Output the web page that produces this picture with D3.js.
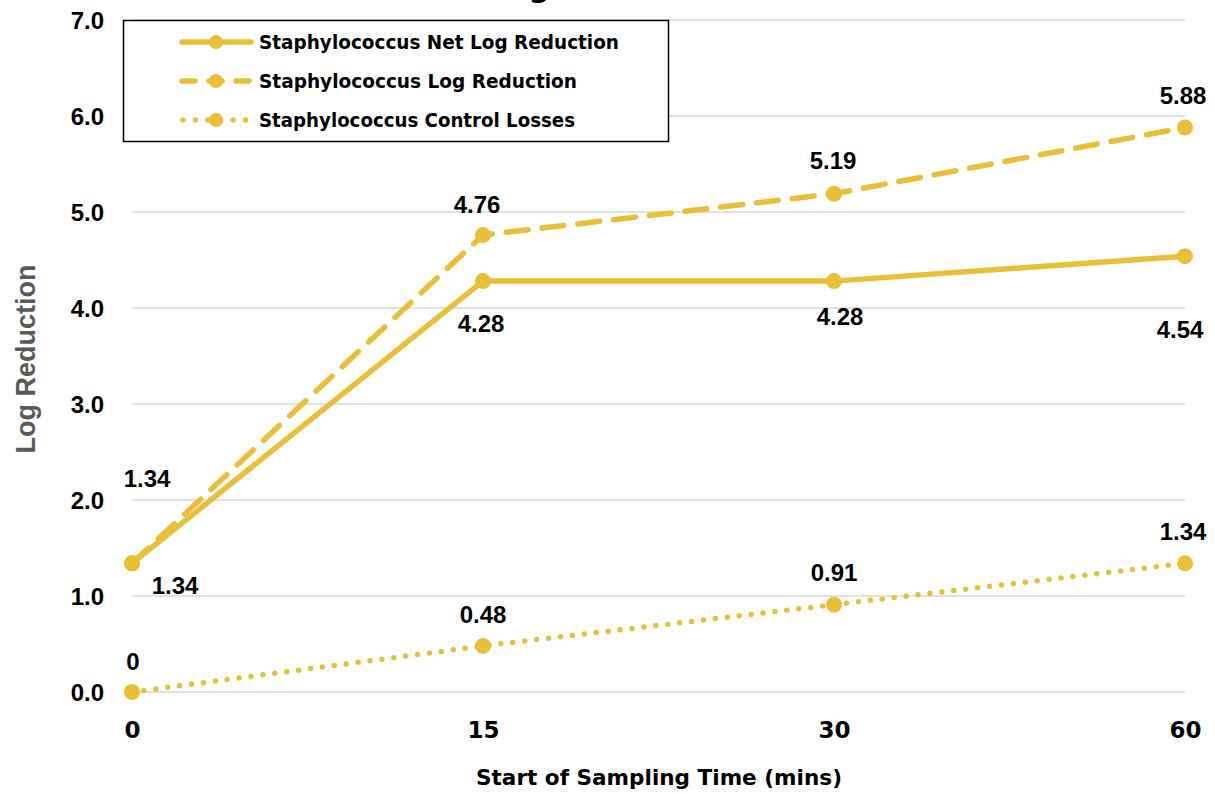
<!DOCTYPE html>
<html>
<head>
<meta charset="utf-8">
<script src="https://cdn.jsdelivr.net/npm/d3@7"></script>
<style>
  html, body { margin: 0; padding: 0; background: #fff; }
  svg { display: block; }
</style>
</head>
<body>
<svg id="chart" width="1215" height="794"></svg>
<script>
// Sampling times (minutes) and log-reduction values per series
const times = ["0", "15", "30", "60"];
const netLogReduction = [1.34, 4.28, 4.28, 4.54];
const logReduction = [1.34, 4.76, 5.19, 5.88];
const controlLosses = [0, 0.48, 0.91, 1.34];
const yTicks = [0, 1, 2, 3, 4, 5, 6, 7];
const seriesNames = [
  "Staphylococcus Net Log Reduction",
  "Staphylococcus Log Reduction",
  "Staphylococcus Control Losses"
];

const gold = "#E9BF37";
const svg = d3.select("#chart");

const x = d3.scalePoint().domain(times).range([132, 1185]);
const y = d3.scaleLinear().domain([0, 7]).range([692, 20]);

// Title (sits mostly above the visible area)
svg.append("text")
  .attr("x", 610).attr("y", -3)
  .attr("text-anchor", "middle")
  .style("font", "bold 30px 'DejaVu Sans'")
  .attr("fill", "#000")
  .text("Log Reduction");

// Horizontal gridlines
svg.append("g")
  .selectAll("line")
  .data(yTicks)
  .join("line")
  .attr("x1", x.range()[0]).attr("x2", x.range()[1])
  .attr("y1", d => y(d)).attr("y2", d => y(d))
  .attr("stroke", "#d9d9d9")
  .attr("stroke-width", 1.5);

// Y axis tick labels
const yAxis = d3.axisLeft(y).tickValues(yTicks).tickFormat(d3.format(".1f")).tickSize(0).tickPadding(0);
svg.append("g")
  .attr("transform", "translate(104,0)")
  .call(yAxis)
  .call(g => g.select(".domain").remove())
  .selectAll("text")
  .attr("dy", "0.36em")
  .style("font", "bold 24px 'Liberation Sans'")
  .attr("fill", "#000");

// X axis tick labels
const xAxis = d3.axisBottom(x).tickSize(0).tickPadding(0);
svg.append("g")
  .attr("transform", "translate(0,738)")
  .call(xAxis)
  .call(g => g.select(".domain").remove())
  .selectAll("text")
  .attr("dy", 0)
  .style("font", "bold 23px 'DejaVu Sans'")
  .attr("fill", "#000");

// Axis titles
svg.append("text")
  .attr("x", 659).attr("y", 785)
  .attr("text-anchor", "middle")
  .style("font", "bold 22px 'DejaVu Sans'")
  .attr("fill", "#000")
  .attr("textLength", 366).attr("lengthAdjust", "spacingAndGlyphs")
  .text("Start of Sampling Time (mins)");

svg.append("text")
  .attr("transform", "translate(35,359) rotate(-90)")
  .attr("text-anchor", "middle")
  .style("font", "bold 27px 'Liberation Sans'")
  .attr("fill", "#595959")
  .text("Log Reduction");

// Series definitions: stroke pattern and label placement
const series = [
  { name: seriesNames[0], values: netLogReduction, dash: null, cap: "butt",
    labelOffsets: [[43, 22], [-2, 42], [6, 35], [-5, 73]] },
  { name: seriesNames[1], values: logReduction, dash: "22,14", cap: "round",
    labelOffsets: [[15, -85], [-6, -31], [-1, -33], [-2, -32]] },
  { name: seriesNames[2], values: controlLosses, dash: "0,12", cap: "round",
    labelOffsets: [[1, -31], [0, -32], [0, -32], [-2, -32]] }
];

const line = d3.line().x((d, i) => x(times[i])).y(d => y(d));

const plot = svg.append("g");
series.forEach(s => {
  plot.append("path")
    .datum(s.values)
    .attr("d", line)
    .attr("fill", "none")
    .attr("stroke", gold)
    .attr("stroke-width", 5.5)
    .attr("stroke-linejoin", "round")
    .attr("stroke-linecap", s.cap)
    .attr("stroke-dasharray", s.dash);
  plot.append("g")
    .selectAll("circle")
    .data(s.values)
    .join("circle")
    .attr("cx", (d, i) => x(times[i]))
    .attr("cy", d => y(d))
    .attr("r", 8)
    .attr("fill", gold);
});

// Data labels
series.forEach(s => {
  svg.append("g")
    .selectAll("text")
    .data(s.values)
    .join("text")
    .attr("x", (d, i) => x(times[i]) + s.labelOffsets[i][0])
    .attr("y", (d, i) => y(d) + s.labelOffsets[i][1])
    .attr("dy", "0.36em")
    .attr("text-anchor", "middle")
    .style("font", "bold 24px 'Liberation Sans'")
    .attr("fill", "#000")
    .text(d => d === 0 ? "0" : d3.format(".2f")(d));
});

// Legend
const legend = svg.append("g");
legend.append("rect")
  .attr("x", 123.5).attr("y", 20.5)
  .attr("width", 545).attr("height", 121)
  .attr("fill", "#fff")
  .attr("stroke", "#000")
  .attr("stroke-width", 1.5);

const legendRows = [42, 81, 120];
series.forEach((s, i) => {
  const ly = legendRows[i];
  legend.append("line")
    .attr("x1", s.cap === "round" && s.dash === "0,12" ? 183 : 182)
    .attr("x2", 251)
    .attr("y1", ly).attr("y2", ly)
    .attr("stroke", gold)
    .attr("stroke-width", 5.5)
    .attr("stroke-linecap", "round")
    .attr("stroke-dasharray", s.dash === "22,14" ? "13,14" : s.dash === "0,12" ? "0,12.5" : null);
  legend.append("circle")
    .attr("cx", 216).attr("cy", ly).attr("r", 7)
    .attr("fill", gold);
  legend.append("text")
    .attr("x", 259).attr("y", ly)
    .attr("dy", "0.36em")
    .style("font", "bold 19px 'DejaVu Sans'")
    .attr("fill", "#000")
    .attr("textLength", s.name === seriesNames[0] ? 360 : s.name === seriesNames[1] ? 318 : 316)
    .attr("lengthAdjust", "spacingAndGlyphs")
    .text(s.name);
});
</script>
</body>
</html>
